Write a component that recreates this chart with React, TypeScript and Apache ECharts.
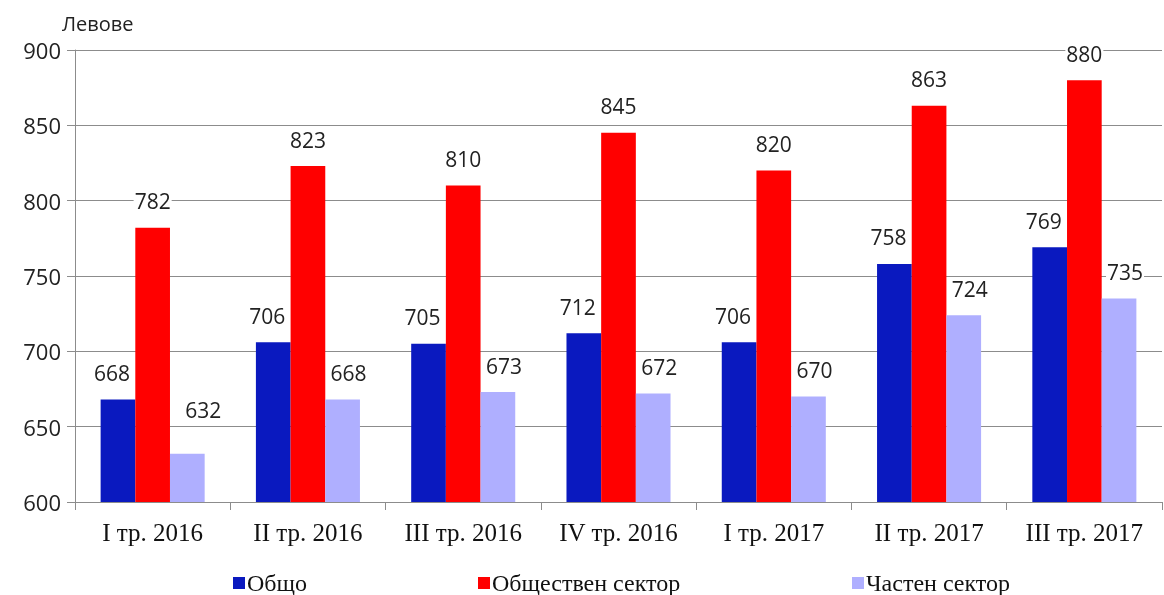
import React, { useEffect, useRef } from "react";
import * as echarts from "echarts";

const categories = ["I тр. 2016", "II тр. 2016", "III тр. 2016", "IV тр. 2016", "I тр. 2017", "II тр. 2017", "III тр. 2017"];
const seriesNames = ["Общо", "Обществен сектор", "Частен сектор"];
const total = [668, 706, 705, 712, 706, 758, 769];
const publicSector = [782, 823, 810, 845, 820, 863, 880];
const privateSector = [632, 668, 673, 672, 670, 724, 735];
const colors = ["#0A19BF", "#FF0000", "#AFAFFF"];
const labelShiftX = [-6, 0, 6];

export default function App() {
  const ref = useRef<HTMLDivElement>(null);
  useEffect(() => {
    const chart = echarts.init(ref.current!, null, { renderer: "svg" });
    const mk = (i: number, data: number[]) => ({
      name: seriesNames[i],
      type: "bar",
      data: data.map((v, j) =>
        i === 2 && j === 0 ? { value: v, label: { offset: [labelShiftX[i] + 10, -17] } } : v
      ),
      barGap: "0%",
      barCategoryGap: "33%",
      itemStyle: { color: colors[i] },
      label: {
        show: true,
        position: "top",
        distance: 16,
        offset: [labelShiftX[i], 0],
        fontFamily: "Open Sans",
        fontSize: 21,
        color: "#222",
        backgroundColor: "#fff",
        padding: [0, 1],
      },
    });
    const legendBase = {
      top: 566,
      itemWidth: 12,
      itemHeight: 12,
      itemGap: 0,
      icon: "rect",
      textStyle: {
        fontFamily: "Liberation Serif",
        fontSize: 24,
        lineHeight: 22,
        color: "#111",
        padding: [0, 0, 0, -3],
      },
    };
    chart.setOption({
      animation: false,
      grid: { left: 75, right: 2, top: 50, bottom: 93 },
      legend: [
        { ...legendBase, left: 228, data: [seriesNames[0]] },
        { ...legendBase, left: 473, data: [seriesNames[1]] },
        { ...legendBase, left: 847, data: [seriesNames[2]] },
      ],
      graphic: [
        {
          type: "text",
          left: 62,
          top: 13,
          style: { text: "Левове", fontFamily: "Open Sans", fontSize: 20, fill: "#222" },
        },
      ],
      xAxis: {
        type: "category",
        data: categories,
        axisLine: { lineStyle: { color: "#8c8c8c" } },
        axisTick: { show: true, length: 8, lineStyle: { color: "#8c8c8c" } },
        axisLabel: { fontFamily: "Liberation Serif", fontSize: 25, color: "#111", margin: 18 },
      },
      yAxis: {
        type: "value",
        min: 600,
        max: 900,
        interval: 50,
        axisLine: { show: true, lineStyle: { color: "#8c8c8c" } },
        axisTick: { show: true, length: 8, lineStyle: { color: "#8c8c8c" } },
        splitLine: { lineStyle: { color: "#8c8c8c" } },
        axisLabel: { fontFamily: "Open Sans", fontSize: 22, color: "#222", margin: 14 },
      },
      series: [mk(0, total), mk(1, publicSector), mk(2, privateSector)],
    });
    return () => chart.dispose();
  }, []);
  return <div ref={ref} style={{ position: "fixed", left: 0, top: 0, width: 1164, height: 595 }} />;
}
